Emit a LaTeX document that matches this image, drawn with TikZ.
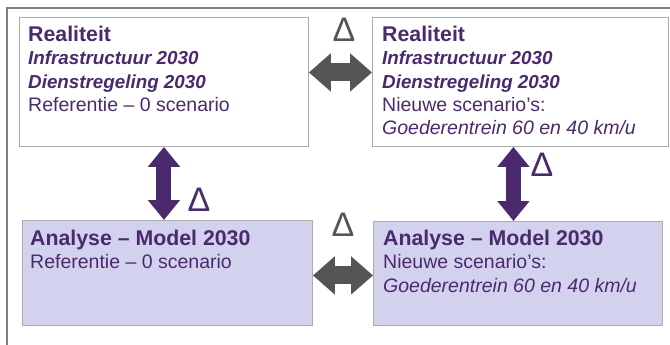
\documentclass[tikz,border=0pt]{standalone}
\usepackage{fontspec}
\setmainfont{Liberation Sans}
\usepackage{xcolor}
\usetikzlibrary{arrows.meta, positioning}
\definecolor{paars}{HTML}{4A2A6C}
\definecolor{paarslicht}{HTML}{D2D2EF}
\definecolor{grijs}{HTML}{555555}
\newcommand{\kop}[1]{{\fontsize{21.3}{23.2}\selectfont\bfseries #1}}
\newcommand{\schuin}[1]{{\fontsize{18.8}{23.2}\selectfont\bfseries\itshape #1}}

\begin{document}
\begin{tikzpicture}[x=1pt, y=-1pt, font=\fontsize{19.5}{23.2}\selectfont,
    kader/.style={draw=gray!65, line width=0.9pt, anchor=north west, inner sep=0pt},
    boxtext/.style={anchor=north west, align=left, text=paars, inner sep=0pt},
    delta/.style={font=\fontsize{34}{34}\selectfont, inner sep=0pt},
    paarspijl/.style={draw=paars, line width=15pt, {Triangle[length=20pt,width=31pt]}-{Triangle[length=20pt,width=31pt]}},
    grijspijl/.style={draw=grijs, line width=18pt, {Triangle[length=22pt,width=37pt]}-{Triangle[length=22pt,width=37pt]}}]
    \useasboundingbox[fill=white] (0,0) rectangle (670,345);
    \draw[gray, line width=1.2pt] (7,345) -- (7,8) -- (670,8);

    \node[kader, fill=white, minimum width=289pt, minimum height=129pt] (tl) at (19,17) {};
    \node[kader, fill=white, minimum width=296pt, minimum height=129pt] (tr) at (372,17) {};
    \node[kader, fill=paarslicht, minimum width=290pt, minimum height=105pt] (bl) at (22,220) {};
    \node[kader, fill=paarslicht, minimum width=289pt, minimum height=104pt] (br) at (373,221) {};

    \node[boxtext, below right=9pt and 9pt of tl.north west] (tltext) {\kop{Realiteit}\\
        \schuin{Infrastructuur 2030}\\
        \schuin{Dienstregeling 2030}\\
        Referentie – 0 scenario};
    \node[boxtext, below right=9pt and 10pt of tr.north west] (trtext) {\kop{Realiteit}\\
        \schuin{Infrastructuur 2030}\\
        \schuin{Dienstregeling 2030}\\
        Nieuwe scenario's:\\
        \textit{Goederentrein 60 en 40 km/u}};
    \node[boxtext, below right=10pt and 8pt of bl.north west] (bltext) {\kop{Analyse – Model 2030}\\
        Referentie – 0 scenario};
    \node[boxtext, below right=9pt and 10pt of br.north west] (brtext) {\kop{Analyse – Model 2030}\\
        Nieuwe scenario’s:\\
        \textit{Goederentrein 60 en 40 km/u}};

    \coordinate (ha) at ([yshift=9.5pt]tl.east);
    \coordinate (hb) at ([yshift=-2.5pt]bl.east);
    \coordinate (vr) at ([xshift=-7pt]tr.south);
    \draw[paarspijl] (tl.south) -- (tl.south |- bl.north);
    \draw[paarspijl] (vr) -- (vr |- br.north);
    \draw[grijspijl] (ha) -- (ha -| tr.west);
    \draw[grijspijl] (hb) -- (hb -| br.west);

    \node[delta, text=grijs] (dboven) at (344,30) {Δ};
    \node[delta, text=grijs] (donder) at (343,225) {Δ};
    \node[delta, text=paars] (dlinks) at (199,200) {Δ};
    \node[delta, text=paars] (drechts) at (542,165) {Δ};
\end{tikzpicture}
\end{document}
